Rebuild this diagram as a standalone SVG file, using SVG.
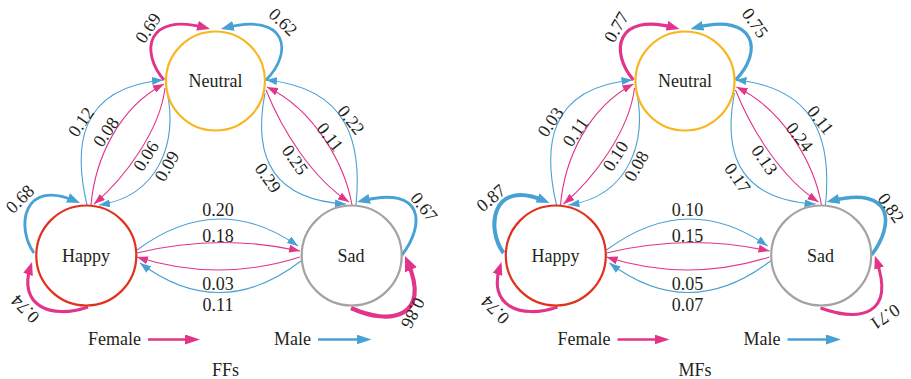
<svg xmlns="http://www.w3.org/2000/svg" width="911" height="379" viewBox="0 0 911 379" font-family="'Liberation Serif', 'Times New Roman', serif">
<style>
text { font-family: 'Liberation Serif', 'Times New Roman', serif; font-size: 18px; fill: #231f20; }
.c { text-anchor: middle; }
</style>
<defs>
<marker id="mpt" markerUnits="userSpaceOnUse" markerWidth="11" markerHeight="8" viewBox="0 0 11 8" refX="11" refY="4" orient="auto"><path d="M0,0 L11,4 L0,8 z" fill="#e2358a"/></marker>
<marker id="mbt" markerUnits="userSpaceOnUse" markerWidth="11" markerHeight="8" viewBox="0 0 11 8" refX="11" refY="4" orient="auto"><path d="M0,0 L11,4 L0,8 z" fill="#47a1d4"/></marker>
<marker id="mpl" markerUnits="userSpaceOnUse" markerWidth="13" markerHeight="10" viewBox="0 0 13 10" refX="8" refY="5" orient="auto"><path d="M0,0 L13,5 L0,10 z" fill="#e2358a"/></marker>
<marker id="mbl" markerUnits="userSpaceOnUse" markerWidth="13" markerHeight="10" viewBox="0 0 13 10" refX="8" refY="5" orient="auto"><path d="M0,0 L13,5 L0,10 z" fill="#47a1d4"/></marker>
<marker id="mpb" markerUnits="userSpaceOnUse" markerWidth="15" markerHeight="13" viewBox="0 0 15 13" refX="9" refY="6.5" orient="auto"><path d="M0,0 L15,6.5 L0,13 z" fill="#e2358a"/></marker>
<marker id="mpg" markerUnits="userSpaceOnUse" markerWidth="15" markerHeight="10" viewBox="0 0 15 10" refX="10" refY="5" orient="auto"><path d="M0,0 L15,5 L0,10 z" fill="#e2358a"/></marker>
<marker id="mbg" markerUnits="userSpaceOnUse" markerWidth="15" markerHeight="10" viewBox="0 0 15 10" refX="10" refY="5" orient="auto"><path d="M0,0 L15,5 L0,10 z" fill="#47a1d4"/></marker>
</defs>
<rect width="911" height="379" fill="#ffffff"/>
<g id="ffs">
  <g id="ffs-connectors" fill="none">
    <g stroke="#e2358a" marker-end="url(#mpl)">
      <path stroke-width="2.9" d="M164,80 C140,52 146,12 205.2,27.7"/>
      <path stroke-width="3.1" d="M88,307 C50,320 18,305 30.5,266.8"/>
    </g>
    <g stroke="#47a1d4" marker-end="url(#mbl)">
      <path stroke-width="2.7" d="M266,80 C294,52 287,12 225.8,27.8"/>
      <path stroke-width="2.9" d="M34,253 C16,228 22,178 75.4,201"/>
      <path stroke-width="2.9" d="M402,255 C425,225 425,185 361.9,200.8"/>
    </g>
    <path stroke="#e2358a" stroke-width="4.2" marker-end="url(#mpb)" d="M351,308 C390,326 432,318 407.4,261.5"/>
    <g stroke="#47a1d4" stroke-width="1.1" marker-end="url(#mbt)">
      <path d="M87,205 C74,150 76,88 163,80"/>
      <path d="M167,92 C178,140 160,196 99,205"/>
      <path d="M356,205 C362,145 350,88 266,80"/>
      <path d="M265,93 C252,160 275,200 346,204"/>
      <path d="M137,250 Q218,190 298,246"/>
      <path d="M301,261 Q220,323 140,263"/>
    </g>
    <g stroke="#e2358a" stroke-width="1.1" marker-end="url(#mpt)">
      <path d="M91,205 C95,160 118,108 164,84"/>
      <path d="M165,88 C160,130 125,178 94,204"/>
      <path d="M352,205 C345,165 315,110 267,87"/>
      <path d="M266,90 C282,130 312,178 349,202"/>
      <path d="M137,253 Q218,233 300,251"/>
      <path d="M300,257 Q218,283 137,257"/>
    </g>
    <path stroke="#e2358a" stroke-width="2.5" marker-end="url(#mpg)" d="M148,339.5 L195,339.5"/>
    <path stroke="#47a1d4" stroke-width="2.5" marker-end="url(#mbg)" d="M318,339.5 L366.5,339.5"/>
  </g>
  <g id="ffs-labels">
    <text font-family="Liberation Serif" class="c" transform="translate(148 28) rotate(-56)" y="6">0.69</text>
    <text font-family="Liberation Serif" class="c" transform="translate(283 22) rotate(44)" y="6">0.62</text>
    <text font-family="Liberation Serif" class="c" transform="translate(20 199) rotate(-45)" y="6">0.68</text>
    <text font-family="Liberation Serif" class="c" transform="translate(25 309) rotate(225)" y="6">0.74</text>
    <text font-family="Liberation Serif" class="c" transform="translate(424 207) rotate(52)" y="6">0.67</text>
    <text font-family="Liberation Serif" class="c" transform="translate(413 313) rotate(117)" y="6">0.86</text>
    <text font-family="Liberation Serif" class="c" transform="translate(81 122) rotate(-55)" y="6">0.12</text>
    <text font-family="Liberation Serif" class="c" transform="translate(106 132) rotate(-55)" y="6">0.08</text>
    <text font-family="Liberation Serif" class="c" transform="translate(146 156) rotate(-57)" y="6">0.06</text>
    <text font-family="Liberation Serif" class="c" transform="translate(167 166) rotate(-60)" y="6">0.09</text>
    <text font-family="Liberation Serif" class="c" transform="translate(351 120) rotate(52)" y="6">0.22</text>
    <text font-family="Liberation Serif" class="c" transform="translate(330 137) rotate(52)" y="6">0.11</text>
    <text font-family="Liberation Serif" class="c" transform="translate(295 160) rotate(55)" y="6">0.25</text>
    <text font-family="Liberation Serif" class="c" transform="translate(268 178) rotate(55)" y="6">0.29</text>
    <text font-family="Liberation Serif" class="c" x="218" y="216">0.20</text>
    <text font-family="Liberation Serif" class="c" x="218" y="242">0.18</text>
    <text font-family="Liberation Serif" class="c" x="218" y="290">0.03</text>
    <text font-family="Liberation Serif" class="c" x="218" y="311">0.11</text>
    <text font-family="Liberation Serif" class="c" x="114.5" y="345">Female</text>
    <text font-family="Liberation Serif" class="c" x="292.5" y="345">Male</text>
    <text font-family="Liberation Serif" class="c" x="225.5" y="376">FFs</text>
  </g>
  <g id="ffs-neutral"><circle cx="215.5" cy="81" r="49.5" fill="#ffffff" stroke="#f8b61e" stroke-width="2.2"/><text font-family="Liberation Serif" class="c" x="215.5" y="87">Neutral</text></g>
  <g id="ffs-happy"><circle cx="86.3" cy="255.5" r="50" fill="#ffffff" stroke="#e0321f" stroke-width="2.2"/><text font-family="Liberation Serif" class="c" x="86" y="261.5">Happy</text></g>
  <g id="ffs-sad"><circle cx="351.7" cy="255.5" r="50" fill="#ffffff" stroke="#a3a3a3" stroke-width="2.2"/><text font-family="Liberation Serif" class="c" x="351" y="261.5">Sad</text></g>
</g>
<g id="mfs" transform="translate(469.5 0)">
  <g id="mfs-connectors" fill="none">
    <g stroke="#e2358a" marker-end="url(#mpl)">
      <path stroke-width="3.2" d="M164,80 C140,52 146,12 205.2,27.7"/>
      <path stroke-width="3.1" d="M88,307 C50,320 18,305 30.5,266.8"/>
      <path stroke-width="3" d="M351,308 C390,322 426,316 407,260.6"/>
    </g>
    <g stroke="#47a1d4" marker-end="url(#mbl)">
      <path stroke-width="3.2" d="M266,80 C294,52 287,12 225.8,27.8"/>
      <path stroke-width="4" d="M34,253 C16,228 22,178 75.4,201"/>
      <path stroke-width="3.6" d="M402,255 C425,225 425,185 361.9,200.8"/>
    </g>
    <g stroke="#47a1d4" stroke-width="1.1" marker-end="url(#mbt)">
      <path d="M87,205 C74,150 76,88 163,80"/>
      <path d="M167,92 C178,140 160,196 99,205"/>
      <path d="M356,205 C362,145 350,88 266,80"/>
      <path d="M265,93 C252,160 275,200 346,204"/>
      <path d="M137,250 Q218,190 298,246"/>
      <path d="M301,261 Q220,323 140,263"/>
    </g>
    <g stroke="#e2358a" stroke-width="1.1" marker-end="url(#mpt)">
      <path d="M91,205 C95,160 118,108 164,84"/>
      <path d="M165,88 C160,130 125,178 94,204"/>
      <path d="M352,205 C345,165 315,110 267,87"/>
      <path d="M266,90 C282,130 312,178 349,202"/>
      <path d="M137,253 Q218,233 300,251"/>
      <path d="M300,257 Q218,283 137,257"/>
    </g>
    <path stroke="#e2358a" stroke-width="2.5" marker-end="url(#mpg)" d="M148,339.5 L195,339.5"/>
    <path stroke="#47a1d4" stroke-width="2.5" marker-end="url(#mbg)" d="M318,339.5 L366.5,339.5"/>
  </g>
  <g id="mfs-labels">
    <text font-family="Liberation Serif" class="c" transform="translate(147 27) rotate(-60)" y="6">0.77</text>
    <text font-family="Liberation Serif" class="c" transform="translate(285.5 23) rotate(55)" y="6">0.75</text>
    <text font-family="Liberation Serif" class="c" transform="translate(21.5 198) rotate(-40)" y="6">0.87</text>
    <text font-family="Liberation Serif" class="c" transform="translate(25.5 310) rotate(225)" y="6">0.74</text>
    <text font-family="Liberation Serif" class="c" transform="translate(421.5 208) rotate(55)" y="6">0.82</text>
    <text font-family="Liberation Serif" class="c" transform="translate(415.5 317) rotate(146)" y="6">0.71</text>
    <text font-family="Liberation Serif" class="c" transform="translate(81 122) rotate(-55)" y="6">0.03</text>
    <text font-family="Liberation Serif" class="c" transform="translate(106 132) rotate(-55)" y="6">0.11</text>
    <text font-family="Liberation Serif" class="c" transform="translate(146 156) rotate(-57)" y="6">0.10</text>
    <text font-family="Liberation Serif" class="c" transform="translate(167 166) rotate(-60)" y="6">0.08</text>
    <text font-family="Liberation Serif" class="c" transform="translate(351 120) rotate(52)" y="6">0.11</text>
    <text font-family="Liberation Serif" class="c" transform="translate(330 137) rotate(52)" y="6">0.24</text>
    <text font-family="Liberation Serif" class="c" transform="translate(295 160) rotate(55)" y="6">0.13</text>
    <text font-family="Liberation Serif" class="c" transform="translate(268 178) rotate(55)" y="6">0.17</text>
    <text font-family="Liberation Serif" class="c" x="218" y="216">0.10</text>
    <text font-family="Liberation Serif" class="c" x="218" y="242">0.15</text>
    <text font-family="Liberation Serif" class="c" x="218" y="290">0.05</text>
    <text font-family="Liberation Serif" class="c" x="218" y="311">0.07</text>
    <text font-family="Liberation Serif" class="c" x="114.5" y="345">Female</text>
    <text font-family="Liberation Serif" class="c" x="292.5" y="345">Male</text>
    <text font-family="Liberation Serif" class="c" x="225.5" y="376">MFs</text>
  </g>
  <g id="mfs-neutral"><circle cx="215.5" cy="81" r="49.5" fill="#ffffff" stroke="#f8b61e" stroke-width="2.2"/><text font-family="Liberation Serif" class="c" x="215.5" y="87">Neutral</text></g>
  <g id="mfs-happy"><circle cx="86.3" cy="255.5" r="50" fill="#ffffff" stroke="#e0321f" stroke-width="2.2"/><text font-family="Liberation Serif" class="c" x="86" y="261.5">Happy</text></g>
  <g id="mfs-sad"><circle cx="351.7" cy="255.5" r="50" fill="#ffffff" stroke="#a3a3a3" stroke-width="2.2"/><text font-family="Liberation Serif" class="c" x="351" y="261.5">Sad</text></g>
</g>
</svg>
